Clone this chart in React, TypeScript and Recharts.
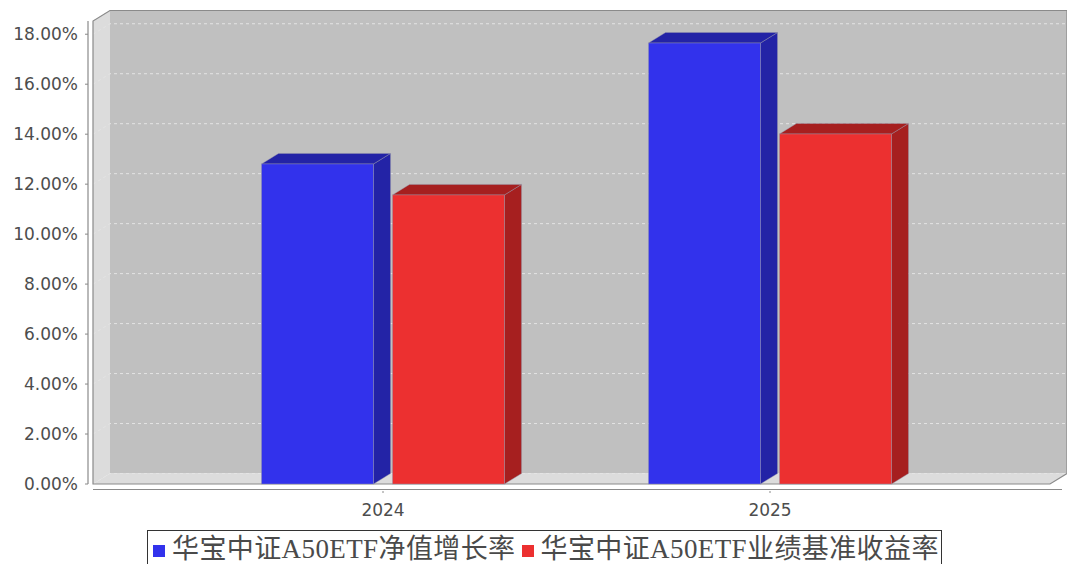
import React from 'react';
import { BarChart, Bar, XAxis, YAxis, CartesianGrid, ReferenceArea, Legend } from 'recharts';

const YEARS = [2024, 2025];
const YEAR_LABELS = ['2024', '2025'];
const NAV_GROWTH = [12.81, 17.65];
const BENCHMARK = [11.57, 14.01];
const SERIES_NAMES = ['华宝中证A50ETF净值增长率', '华宝中证A50ETF业绩基准收益率'];
const SERIES_COLORS = ['#3232EC', '#EC3030'];
const SERIES_SIDE_COLORS = ['#2323A6', '#A61F1F'];
const Y_TICKS = [0, 2, 4, 6, 8, 10, 12, 14, 16, 18];
const Y_MAX = 18.53;
const X_MIN = 2023.2506;
const X_MAX = 2025.7235;

const DX = 17;
const DY = 10.5;

const data = YEARS.map((year, i) => ({ year, nav: NAV_GROWTH[i], bench: BENCHMARK[i] }));

const TICK_FONT = "'DejaVu Sans', sans-serif";

const make3DBar = (side: string) => (props: any) => {
  const { x, y, width, height, fill } = props;
  if (height == null || height <= 0) return <g />;
  const top = `M${x},${y} L${x + DX},${y - DY} L${x + width + DX},${y - DY} L${x + width},${y} Z`;
  const right = `M${x + width},${y} L${x + width + DX},${y - DY} L${x + width + DX},${y + height - DY} L${x + width},${y + height} Z`;
  const stroke = 'rgba(150,150,170,0.55)';
  return (
    <g>
      <path d={right} fill={side} stroke={stroke} strokeWidth={0.8} />
      <path d={top} fill={side} stroke={stroke} strokeWidth={0.8} />
      <rect x={x} y={y} width={width} height={height} fill={fill} stroke={stroke} strokeWidth={0.8} />
    </g>
  );
};

const Walls = (props: any) => {
  const { x, y, width: w, height: h } = props;
  const leftWall = `M${x},${y} L${x + DX},${y - DY} L${x + DX},${y + h - DY} L${x},${y + h} Z`;
  const floor = `M${x},${y + h} L${x + DX},${y + h - DY} L${x + w + DX},${y + h - DY} L${x + w},${y + h} Z`;
  return (
    <g>
      <rect x={x + DX} y={y - DY} width={w} height={h} fill="#C0C0C0" />
      <path d={leftWall} fill="#DCDCDC" />
      <path d={floor} fill="#DCDCDC" />
    </g>
  );
};

const Outline = (props: any) => {
  const { x, y, width: w, height: h } = props;
  const outline = `M${x},${y + h} L${x},${y} L${x + DX},${y - DY} L${x + w + DX},${y - DY} L${x + w + DX},${y + h - DY} L${x + w},${y + h} Z`;
  return (
    <g>
      <path d={outline} fill="none" stroke="#8a8a8a" strokeWidth={1.2} />
      <line x1={x - 5} x2={x - 5} y1={y} y2={y + h} stroke="#8a8a8a" strokeWidth={1.2} />
      <line x1={x} x2={x + w + 12} y1={y + h + 5.5} y2={y + h + 5.5} stroke="#8a8a8a" strokeWidth={1.2} />
    </g>
  );
};

const GridLine = (p: any) => {
  const { x1, y1, x2 } = p;
  return (
    <path
      key={`g-${p.index}-${y1}`}
      d={`M${x1},${y1} L${x1 + DX},${y1 - DY} L${x2 + DX},${y1 - DY}`}
      fill="none"
      stroke="#E4E4E4"
      strokeWidth={1}
      strokeDasharray="3 3"
    />
  );
};

const YTick = (props: any) => {
  const { x, y, payload } = props;
  return (
    <g>
      <line x1={x - 8} x2={x - 5} y1={y} y2={y} stroke="#8a8a8a" strokeWidth={1} />
      <text x={x - 15} y={y + 6} textAnchor="end" fontSize={17} fontFamily={TICK_FONT} fill="#4d4d4d">
        {`${Number(payload.value).toFixed(2)}%`}
      </text>
    </g>
  );
};

const XTick = (props: any) => {
  const { x, y, payload } = props;
  const idx = YEARS.indexOf(payload.value);
  return (
    <g>
      <line x1={x} x2={x} y1={y + 7} y2={y + 9} stroke="#8a8a8a" strokeWidth={1} />
      <text x={x} y={y + 32} textAnchor="middle" fontSize={17} fontFamily={TICK_FONT} fill="#4d4d4d">
        {idx >= 0 ? YEAR_LABELS[idx] : String(payload.value)}
      </text>
    </g>
  );
};

const LegendBox = (props: any) => {
  const payload = [...(props.payload || [])].sort(
    (a: any, b: any) => SERIES_NAMES.indexOf(a.value) - SERIES_NAMES.indexOf(b.value)
  );
  return (
    <div
      style={{
        border: '1px solid #333',
        height: 40,
        boxSizing: 'border-box',
        display: 'flex',
        alignItems: 'flex-start',
        paddingLeft: 5,
        paddingTop: 5,
        background: '#fff',
      }}
    >
      {payload.map((entry: any, i: number) => (
        <div key={i} style={{ display: 'flex', alignItems: 'flex-start', marginRight: 6 }}>
          <span
            style={{ display: 'inline-block', width: 12, height: 12, background: entry.color, marginTop: 9, marginRight: 7 }}
          />
          <span
            style={{
              fontSize: 27,
              lineHeight: '27px',
              fontFamily: "'Liberation Serif', 'Noto Sans CJK SC', serif",
              letterSpacing: 0.4,
              color: '#4a4a4a',
              whiteSpace: 'nowrap',
            }}
          >
            {entry.value}
          </span>
        </div>
      ))}
    </div>
  );
};

export default function App() {
  return (
    <div style={{ width: 1067, height: 564, fontFamily: TICK_FONT }}>
      <style>{'html,body{margin:0;padding:0;overflow:hidden;background:#fff}'}</style>
      <BarChart
        width={1067}
        height={564}
        data={data}
        margin={{ top: 21, right: 17, bottom: 50, left: 0 }}
        barGap={19}
      >
        <ReferenceArea
          x1={X_MIN}
          x2={X_MAX}
          y1={0}
          y2={Y_MAX}
          ifOverflow="visible"
          shape={Walls}
          zIndex={-200}
        />
        <CartesianGrid vertical={false} horizontal={GridLine} zIndex={-150} />
        <ReferenceArea
          x1={X_MIN}
          x2={X_MAX}
          y1={0}
          y2={Y_MAX}
          ifOverflow="visible"
          shape={Outline}
          zIndex={-120}
        />
        <XAxis
          dataKey="year"
          type="number"
          domain={[X_MIN, X_MAX]}
          ticks={YEARS}
          interval={0}
          height={30}
          axisLine={false}
          tickLine={false}
          tickSize={0}
          tickMargin={0}
          tick={XTick}
        />
        <YAxis
          type="number"
          domain={[0, Y_MAX]}
          ticks={Y_TICKS}
          interval={0}
          width={93}
          axisLine={false}
          tickLine={false}
          tickSize={0}
          tickMargin={0}
          tick={YTick}
        />
        <Bar
          dataKey="nav"
          name={SERIES_NAMES[0]}
          fill={SERIES_COLORS[0]}
          barSize={112}
          shape={make3DBar(SERIES_SIDE_COLORS[0])}
          isAnimationActive={false}
        />
        <Bar
          dataKey="bench"
          name={SERIES_NAMES[1]}
          fill={SERIES_COLORS[1]}
          barSize={112}
          shape={make3DBar(SERIES_SIDE_COLORS[1])}
          isAnimationActive={false}
        />
        <Legend
          layout="horizontal"
          verticalAlign="middle"
          align="center"
          content={LegendBox}
          wrapperStyle={{ left: 147, top: 530, width: 795, height: 40 }}
        />
      </BarChart>
    </div>
  );
}
